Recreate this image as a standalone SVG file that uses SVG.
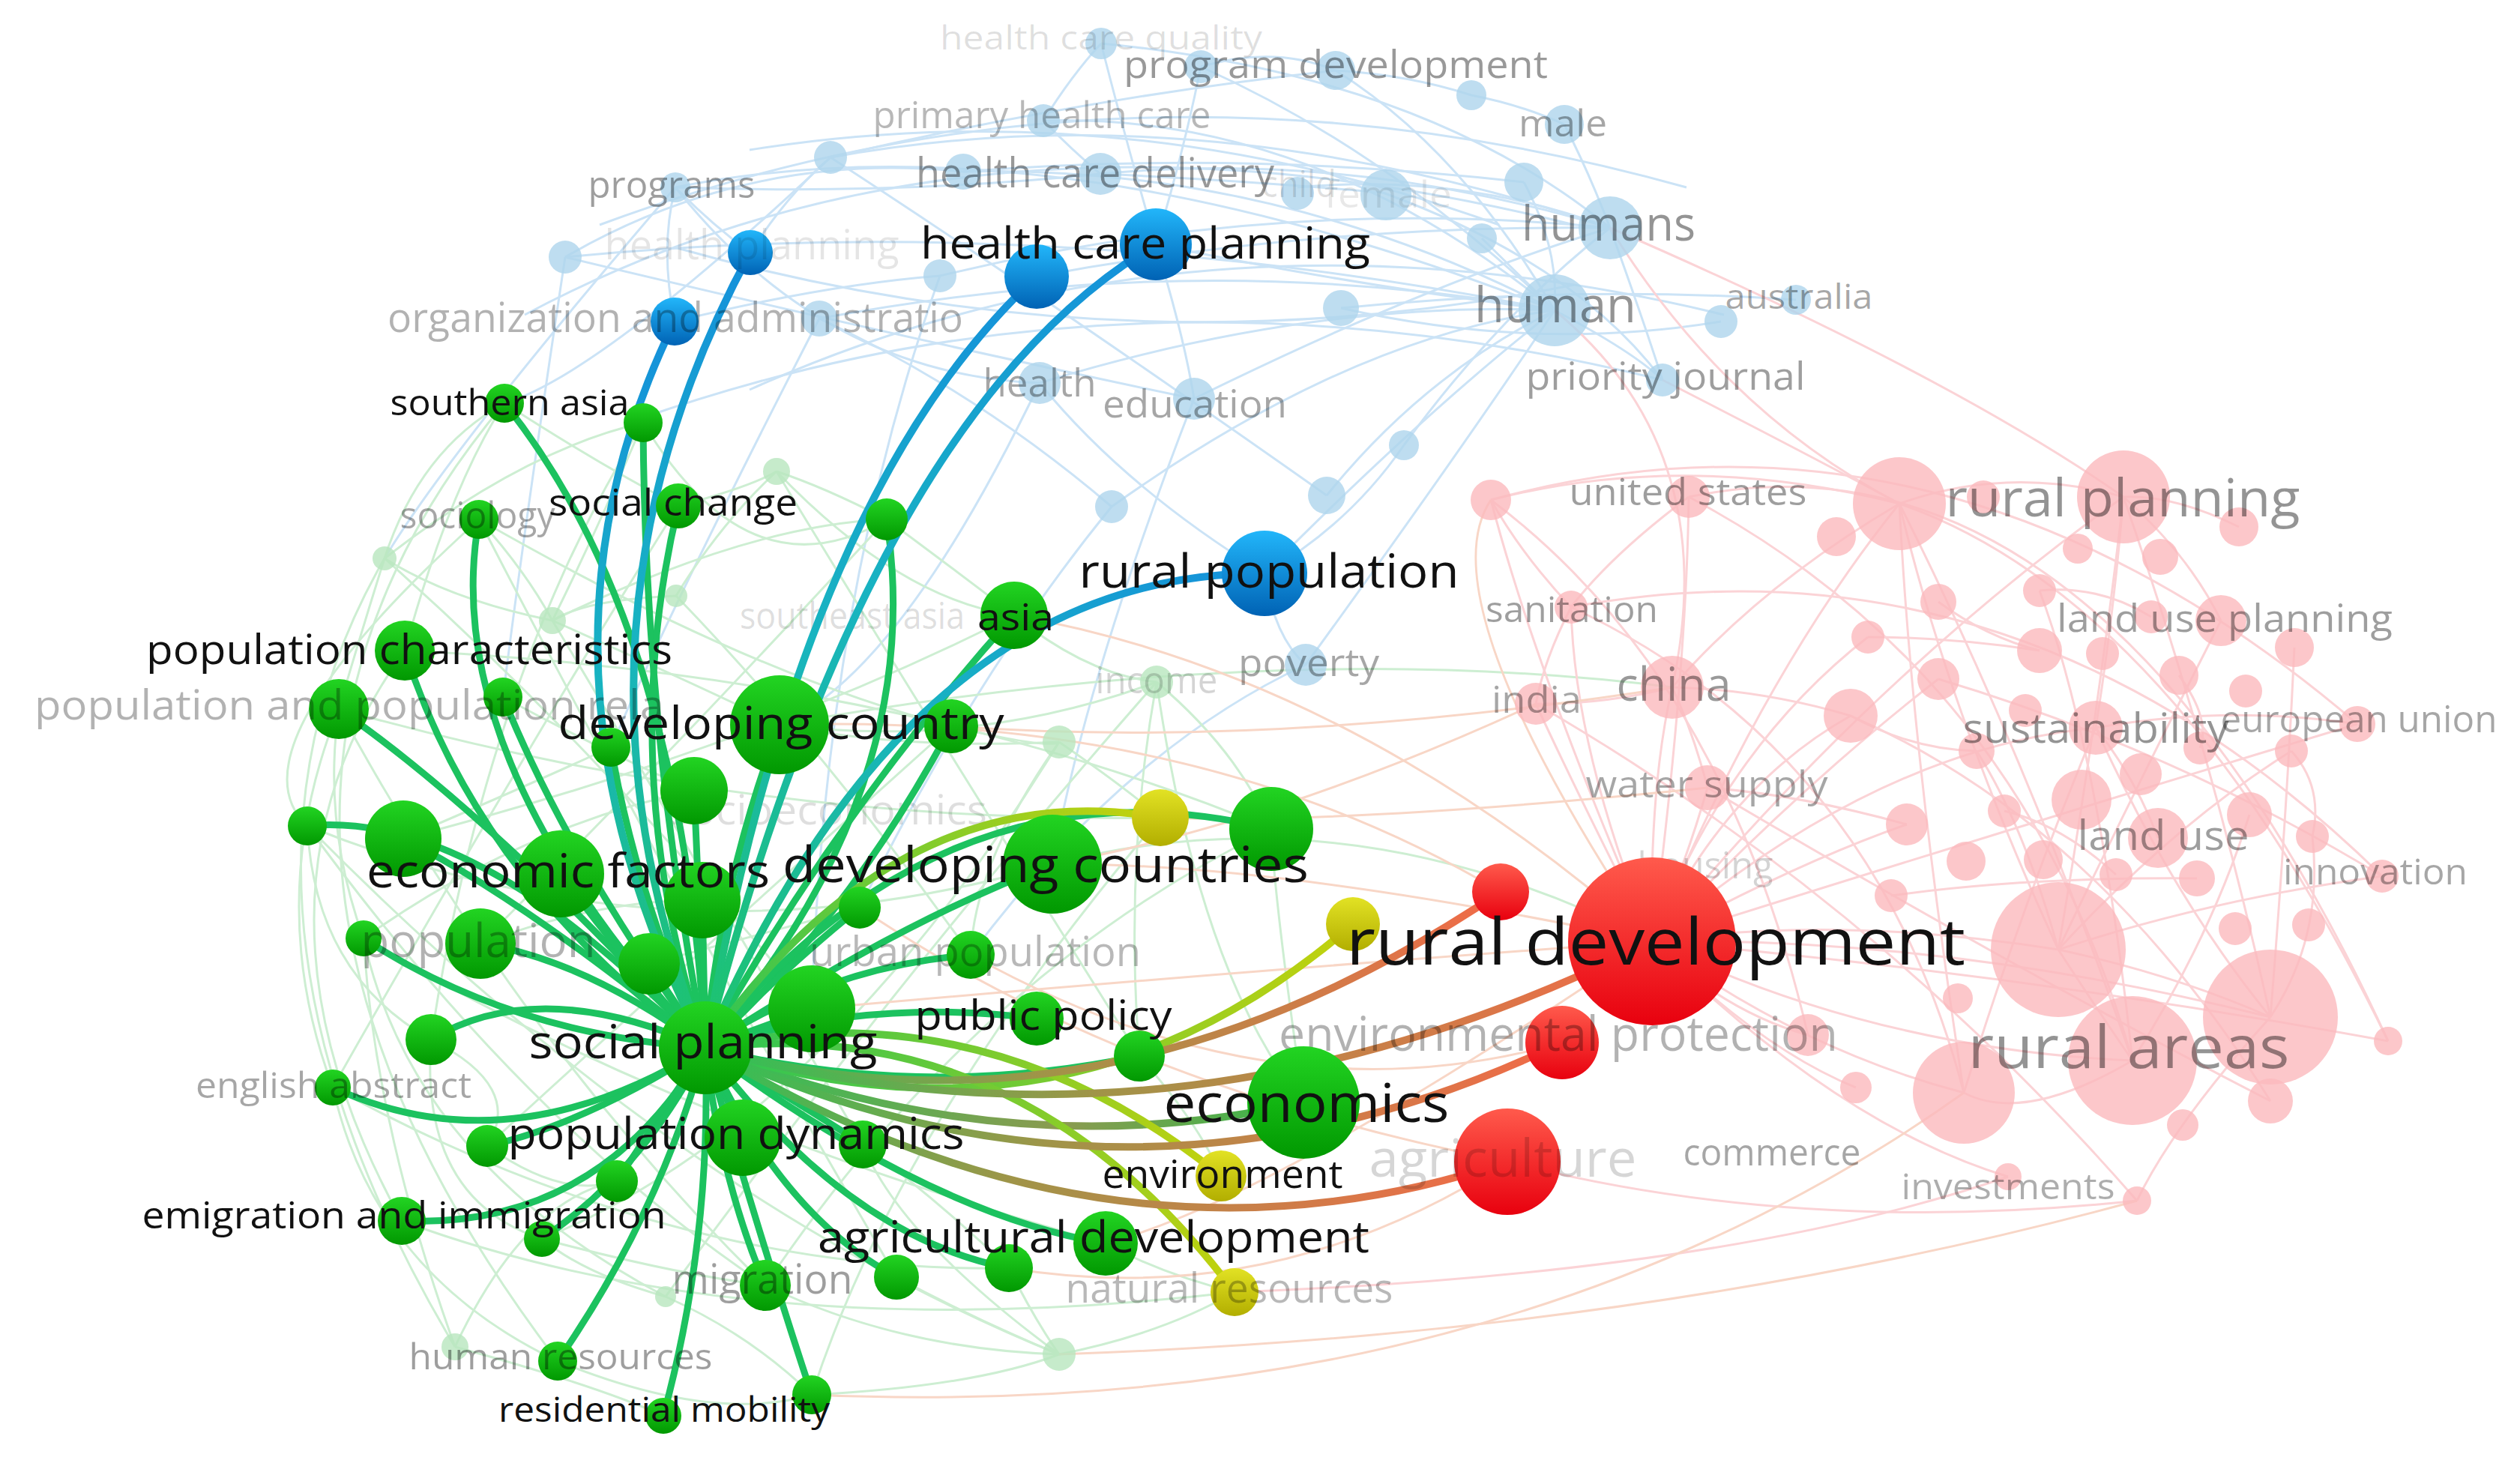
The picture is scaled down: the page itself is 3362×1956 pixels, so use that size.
<svg xmlns="http://www.w3.org/2000/svg" width="3362" height="1956" viewBox="0 0 3362 1956">
<defs>
<style>
.eb{fill:none;stroke:#cbe3f6;stroke-width:3}
.eg{fill:none;stroke:#cdeed2;stroke-width:3}
.ep{fill:none;stroke:#fbd3d6;stroke-width:3}
.eo{fill:none;stroke:#f8d6c6;stroke-width:3}
.fb{fill:#aed5ec;fill-opacity:.8}
.fg{fill:#b8e6be;fill-opacity:.8}
.fp{fill:#fbb9bd;fill-opacity:.8}
.hg{fill:none;stroke:#1cc25f;stroke-width:9;stroke-linecap:round}
.hx{fill:none;stroke-width:10;stroke-linecap:round}
.ng{fill:url(#gG)}
.nb{fill:url(#gB)}
.nr{fill:url(#gR)}
.ny{fill:url(#gY)}
text{font-family:"Open Sans","DejaVu Sans",sans-serif;text-anchor:middle}
.lb{fill:#111}
.lf{fill:#000}
</style>
<linearGradient id="gG" x1="0" y1="0" x2="0" y2="1"><stop offset="0" stop-color="#22d422"/><stop offset="1" stop-color="#019801"/></linearGradient>
<linearGradient id="gB" x1="0" y1="0" x2="0" y2="1"><stop offset="0" stop-color="#22b6fa"/><stop offset="1" stop-color="#0062b4"/></linearGradient>
<linearGradient id="gR" x1="0" y1="0" x2="0" y2="1"><stop offset="0" stop-color="#ff5a4c"/><stop offset="1" stop-color="#e8000e"/></linearGradient>
<linearGradient id="gY" x1="0" y1="0" x2="0" y2="1"><stop offset="0" stop-color="#e2e224"/><stop offset="1" stop-color="#b2ae00"/></linearGradient>
<linearGradient id="eB1" gradientUnits="userSpaceOnUse" x1="941" y1="1398" x2="1001" y2="337"><stop offset="0" stop-color="#1ec46a"/><stop offset=".5" stop-color="#18b4c0"/><stop offset="1" stop-color="#1590dc"/></linearGradient>
<linearGradient id="eB2" gradientUnits="userSpaceOnUse" x1="941" y1="1398" x2="900" y2="429"><stop offset="0" stop-color="#1ec46a"/><stop offset=".5" stop-color="#18b4c0"/><stop offset="1" stop-color="#1590dc"/></linearGradient>
<linearGradient id="eB3" gradientUnits="userSpaceOnUse" x1="941" y1="1398" x2="1383" y2="369"><stop offset="0" stop-color="#1ec46a"/><stop offset=".5" stop-color="#18b4c0"/><stop offset="1" stop-color="#1590dc"/></linearGradient>
<linearGradient id="eB4" gradientUnits="userSpaceOnUse" x1="941" y1="1398" x2="1542" y2="326"><stop offset="0" stop-color="#1ec46a"/><stop offset=".5" stop-color="#18b4c0"/><stop offset="1" stop-color="#1590dc"/></linearGradient>
<linearGradient id="eB5" gradientUnits="userSpaceOnUse" x1="941" y1="1398" x2="1687" y2="765"><stop offset="0" stop-color="#1ec46a"/><stop offset=".5" stop-color="#18b4c0"/><stop offset="1" stop-color="#1590dc"/></linearGradient>
<linearGradient id="eR1" gradientUnits="userSpaceOnUse" x1="941" y1="1398" x2="2002" y2="1190"><stop offset="0" stop-color="#2cc256"/><stop offset=".4" stop-color="#a09448"/><stop offset="1" stop-color="#f26a48"/></linearGradient>
<linearGradient id="eR2" gradientUnits="userSpaceOnUse" x1="941" y1="1398" x2="2204" y2="1256"><stop offset="0" stop-color="#2cc256"/><stop offset=".4" stop-color="#a09448"/><stop offset="1" stop-color="#f26a48"/></linearGradient>
<linearGradient id="eR3" gradientUnits="userSpaceOnUse" x1="941" y1="1398" x2="2084" y2="1391"><stop offset="0" stop-color="#2cc256"/><stop offset=".4" stop-color="#a09448"/><stop offset="1" stop-color="#f26a48"/></linearGradient>
<linearGradient id="eR4" gradientUnits="userSpaceOnUse" x1="941" y1="1398" x2="2011" y2="1550"><stop offset="0" stop-color="#2cc256"/><stop offset=".4" stop-color="#a09448"/><stop offset="1" stop-color="#f26a48"/></linearGradient>
<linearGradient id="eY1" gradientUnits="userSpaceOnUse" x1="941" y1="1398" x2="1548" y2="1091"><stop offset="0" stop-color="#2cc456"/><stop offset="1" stop-color="#c4d20c"/></linearGradient>
<linearGradient id="eY2" gradientUnits="userSpaceOnUse" x1="941" y1="1398" x2="1805" y2="1233"><stop offset="0" stop-color="#2cc456"/><stop offset="1" stop-color="#c4d20c"/></linearGradient>
<linearGradient id="eY3" gradientUnits="userSpaceOnUse" x1="941" y1="1398" x2="1629" y2="1569"><stop offset="0" stop-color="#2cc456"/><stop offset="1" stop-color="#c4d20c"/></linearGradient>
<linearGradient id="eY4" gradientUnits="userSpaceOnUse" x1="941" y1="1398" x2="1647" y2="1724"><stop offset="0" stop-color="#2cc456"/><stop offset="1" stop-color="#c4d20c"/></linearGradient>
<linearGradient id="eEc" gradientUnits="userSpaceOnUse" x1="941" y1="1398" x2="1739" y2="1471"><stop offset="0" stop-color="#2cc256"/><stop offset=".6" stop-color="#8c9a50"/><stop offset="1" stop-color="#36b84a"/></linearGradient>
</defs>
<rect width="3362" height="1956" fill="#fff"/>

<g id="connectors-faded">
<g id="faded-blue-edges">
<path class="eb" d="M901,250 Q1400,150 2074,414"/>
<path class="eb" d="M1108,210 Q1600,120 2148,304"/>
<path class="eb" d="M1285,229 Q1700,220 2074,414"/>
<path class="eb" d="M1468,232 Q1800,200 2148,304"/>
<path class="eb" d="M1392,161 Q1750,150 2074,414"/>
<path class="eb" d="M1469,58 Q1900,100 2148,304"/>
<path class="eb" d="M1782,94 Q1950,200 2074,414"/>
<path class="eb" d="M1602,89 Q1850,200 2074,414"/>
<path class="eb" d="M1731,250 Q1950,230 2148,304"/>
<path class="eb" d="M1845,257 Q2100,350 2218,507"/>
<path class="eb" d="M2033,243 Q2080,330 2074,414"/>
<path class="eb" d="M754,343 Q1400,280 2074,414"/>
<path class="eb" d="M1254,368 Q1700,260 2148,304"/>
<path class="eb" d="M1093,425 Q1600,330 2074,414"/>
<path class="eb" d="M1387,511 Q1750,400 2074,414"/>
<path class="eb" d="M1593,532 Q1900,380 2148,304"/>
<path class="eb" d="M1789,411 Q2100,380 2396,400"/>
<path class="eb" d="M1789,411 Q2050,470 2296,429"/>
<path class="eb" d="M1483,676 Q1800,450 2074,414"/>
<path class="eb" d="M1873,594 Q2000,420 2148,304"/>
<path class="eb" d="M1770,661 Q1900,500 2074,414"/>
<path class="eb" d="M1742,887 Q1950,600 2074,414"/>
<path class="eb" d="M1383,369 Q1750,300 2148,304"/>
<path class="eb" d="M1542,326 Q1800,380 2074,414"/>
<path class="eb" d="M1542,326 Q1500,180 1469,58"/>
<path class="eb" d="M1542,326 Q1580,200 1602,89"/>
<path class="eb" d="M1542,326 Q1580,450 1593,532"/>
<path class="eb" d="M1687,765 Q1900,550 2074,414"/>
<path class="eb" d="M1687,765 Q1500,650 1387,511"/>
<path class="eb" d="M1687,765 Q1700,850 1742,887"/>
<path class="eb" d="M1687,765 Q1800,700 1873,594"/>
<path class="eb" d="M1001,337 Q950,300 901,250"/>
<path class="eb" d="M1001,337 Q1050,260 1108,210"/>
<path class="eb" d="M900,429 Q880,330 901,250"/>
<path class="eb" d="M900,429 Q1100,380 1254,368"/>
<path class="eb" d="M901,250 Q1200,260 1468,232"/>
<path class="eb" d="M1108,210 Q1450,130 1782,94"/>
<path class="eb" d="M1469,58 Q1430,100 1392,161"/>
<path class="eb" d="M1392,161 Q1430,200 1468,232"/>
<path class="eb" d="M1468,232 Q1650,240 1845,257"/>
<path class="eb" d="M1285,229 Q1650,200 2033,243"/>
<path class="eb" d="M754,343 Q1000,200 1285,229"/>
<path class="eb" d="M754,343 Q1200,450 1593,532"/>
<path class="eb" d="M1093,425 Q1300,520 1483,676"/>
<path class="eb" d="M901,250 Q1100,500 1387,511"/>
<path class="eb" d="M1108,210 Q1400,400 1770,661"/>
<path class="eb" d="M700,420 Q1300,100 2100,300"/>
<path class="eb" d="M800,300 Q1500,40 2250,250"/>
<path class="eb" d="M1000,520 Q1600,250 2300,420"/>
<path class="eb" d="M850,560 Q1500,330 2218,507"/>
<path class="eb" d="M1387,511 Q1200,900 1040,967"/>
<path class="eb" d="M1093,425 Q900,800 815,997"/>
<path class="eb" d="M754,343 Q700,700 671,930"/>
<path class="eb" d="M1254,368 Q1100,800 1083,1346"/>
<path class="eb" d="M1593,532 Q1450,900 1404,1153"/>
<path class="eb" d="M1742,887 Q1500,1000 1295,1274"/>
<path class="eb" d="M1483,676 Q1300,900 1147,1211"/>
<path class="eb" d="M901,250 Q600,600 513,745"/>
<path class="eb" d="M1108,210 Q800,500 673,538"/>
<path class="eb" d="M1602,89 Q1700,60 1782,94"/>
<path class="eb" d="M1782,94 Q1880,100 1963,127"/>
<path class="eb" d="M1963,127 Q2030,140 2087,166"/>
<path class="eb" d="M2087,166 Q2120,230 2148,304"/>
<path class="eb" d="M1977,318 Q2030,370 2074,414"/>
<path class="eb" d="M2148,304 Q2190,420 2218,507"/>
<path class="eb" d="M2074,414 Q2180,470 2218,507"/>
<path class="eb" d="M1000,200 Q1500,120 2000,300"/>
<path class="eb" d="M900,330 Q1500,500 2100,380"/>
</g>
<g id="faded-green-edges">
<path class="eg" d="M673,538 Q600,650 540,868"/>
<path class="eg" d="M673,538 Q800,620 905,675"/>
<path class="eg" d="M673,538 Q560,600 513,745"/>
<path class="eg" d="M858,564 Q800,700 737,828"/>
<path class="eg" d="M639,693 Q700,760 737,828"/>
<path class="eg" d="M513,745 Q600,800 737,828"/>
<path class="eg" d="M513,745 Q480,850 452,946"/>
<path class="eg" d="M905,675 Q1000,650 1036,629"/>
<path class="eg" d="M1183,693 Q1100,650 1036,629"/>
<path class="eg" d="M1036,629 Q960,700 902,795"/>
<path class="eg" d="M902,795 Q780,800 737,828"/>
<path class="eg" d="M1353,821 Q1200,800 1036,629"/>
<path class="eg" d="M1353,821 Q1450,900 1543,910"/>
<path class="eg" d="M1543,910 Q1300,1000 1040,967"/>
<path class="eg" d="M1413,990 Q1200,1000 1040,967"/>
<path class="eg" d="M1413,990 Q1500,1050 1548,1091"/>
<path class="eg" d="M1543,910 Q1650,1000 1696,1106"/>
<path class="eg" d="M452,946 Q430,1100 485,1252"/>
<path class="eg" d="M410,1102 Q420,1300 575,1387"/>
<path class="eg" d="M452,946 Q350,1200 444,1451"/>
<path class="eg" d="M540,868 Q300,1200 536,1629"/>
<path class="eg" d="M513,745 Q250,1200 607,1797"/>
<path class="eg" d="M673,538 Q200,1100 744,1816"/>
<path class="eg" d="M639,693 Q300,1000 410,1102"/>
<path class="eg" d="M444,1451 Q500,1700 744,1816"/>
<path class="eg" d="M575,1387 Q560,1600 723,1653"/>
<path class="eg" d="M607,1797 Q800,1850 885,1889"/>
<path class="eg" d="M744,1816 Q950,1900 1083,1861"/>
<path class="eg" d="M1083,1861 Q1300,1850 1413,1807"/>
<path class="eg" d="M1413,1807 Q1550,1780 1647,1724"/>
<path class="eg" d="M1021,1715 Q1200,1800 1413,1807"/>
<path class="eg" d="M888,1730 Q1000,1780 1083,1861"/>
<path class="eg" d="M888,1730 Q780,1700 723,1653"/>
<path class="eg" d="M1346,1692 Q1380,1760 1413,1807"/>
<path class="eg" d="M1475,1659 Q1550,1700 1647,1724"/>
<path class="eg" d="M1196,1704 Q1300,1760 1413,1807"/>
<path class="eg" d="M1543,910 Q1500,1150 1520,1409"/>
<path class="eg" d="M1413,990 Q1300,1150 1295,1274"/>
<path class="eg" d="M1739,1471 Q1600,1300 1543,910"/>
<path class="eg" d="M1739,1471 Q1700,1200 1696,1106"/>
<path class="eg" d="M737,828 Q900,900 1040,967"/>
<path class="eg" d="M671,930 Q800,1000 926,1055"/>
<path class="eg" d="M538,1119 Q700,1050 815,997"/>
<path class="eg" d="M641,1259 Q800,1200 937,1201"/>
<path class="eg" d="M866,1286 Q1000,1250 1147,1211"/>
<path class="eg" d="M575,1387 Q700,1450 650,1529"/>
<path class="eg" d="M650,1529 Q750,1600 823,1576"/>
<path class="eg" d="M723,1653 Q900,1700 1021,1715"/>
<path class="eg" d="M1151,1527 Q1250,1600 1346,1692"/>
<path class="eg" d="M1520,1409 Q1600,1500 1629,1569"/>
<path class="eg" d="M485,1252 Q900,1500 1475,1659"/>
<path class="eg" d="M410,1102 Q900,1300 1404,1153"/>
<path class="eg" d="M452,946 Q1000,1100 1548,1091"/>
<path class="eg" d="M540,868 Q1200,900 1696,1106"/>
<path class="eg" d="M639,693 Q1000,900 1269,969"/>
<path class="eg" d="M444,1451 Q900,1700 1346,1692"/>
<path class="eg" d="M536,1629 Q1000,1800 1647,1724"/>
<path class="eg" d="M1040,967 Q1700,850 2231,917"/>
<path class="eg" d="M1404,1153 Q1800,1050 2204,1256"/>
<path class="eg" d="M410,1102 Q700,1500 1021,1715"/>
<path class="eg" d="M485,1252 Q550,1550 888,1730"/>
<path class="eg" d="M858,564 Q1000,800 1183,693"/>
<path class="eg" d="M1183,693 Q1300,780 1353,821"/>
<path class="eg" d="M1269,969 Q1400,1000 1413,990"/>
<path class="eg" d="M1413,1807 Q1200,1650 1151,1527"/>
<path class="eg" d="M607,1797 Q700,1600 823,1576"/>
<path class="eg" d="M513,745 Q800,1000 1083,1346"/>
<path class="eg" d="M737,828 Q900,1100 1151,1527"/>
<path class="eg" d="M902,795 Q1100,1000 1295,1274"/>
<path class="eg" d="M1036,629 Q1200,900 1520,1409"/>
<path class="eg" d="M639,693 Q900,1200 1196,1704"/>
<path class="eg" d="M452,946 Q700,1400 1021,1715"/>
<path class="eg" d="M410,1102 Q900,1600 1413,1807"/>
<path class="eg" d="M1543,910 Q1200,1300 888,1730"/>
<path class="eg" d="M1413,990 Q1100,1500 723,1653"/>
<path class="eg" d="M1183,693 Q900,1000 641,1259"/>
<path class="eg" d="M1353,821 Q1000,1000 538,1119"/>
<path class="eg" d="M1696,1106 Q1300,1300 1021,1715"/>
<path class="eg" d="M1548,1091 Q1200,1500 1083,1861"/>
<path class="eg" d="M858,564 Q650,900 575,1387"/>
<path class="eg" d="M905,675 Q700,1000 444,1451"/>
<path class="eg" d="M1269,969 Q900,1300 650,1529"/>
<path class="eg" d="M513,745 Q700,600 858,564"/>
<path class="eg" d="M737,828 Q1000,700 1183,693"/>
<path class="eg" d="M485,1252 Q700,1100 926,1055"/>
<path class="eg" d="M607,1797 Q500,1500 485,1252"/>
</g>
<g id="faded-pink-edges">
<path class="ep" d="M2204,1256 Q2350,900 2534,672"/>
<path class="ep" d="M2204,1256 Q2500,900 2833,663"/>
<path class="ep" d="M2204,1256 Q2200,1050 2231,917"/>
<path class="ep" d="M2204,1256 Q2250,1150 2278,1051"/>
<path class="ep" d="M2204,1256 Q2300,1050 2469,955"/>
<path class="ep" d="M2204,1256 Q2400,1150 2544,1100"/>
<path class="ep" d="M2204,1256 Q2450,1220 2746,1267"/>
<path class="ep" d="M2204,1256 Q2500,1400 2845,1415"/>
<path class="ep" d="M2204,1256 Q2600,1250 3029,1357"/>
<path class="ep" d="M2204,1256 Q2400,1400 2620,1458"/>
<path class="ep" d="M2204,1256 Q2300,1350 2412,1381"/>
<path class="ep" d="M2204,1256 Q2350,1400 2476,1451"/>
<path class="ep" d="M2204,1256 Q2450,1500 2679,1570"/>
<path class="ep" d="M2204,1256 Q2400,1050 2586,906"/>
<path class="ep" d="M2204,1256 Q2300,1000 2492,850"/>
<path class="ep" d="M2204,1256 Q2100,1050 2049,939"/>
<path class="ep" d="M2204,1256 Q2100,1000 2096,810"/>
<path class="ep" d="M2204,1256 Q2050,900 1989,667"/>
<path class="ep" d="M2204,1256 Q2250,900 2253,663"/>
<path class="ep" d="M2204,1256 Q2500,1000 2796,971"/>
<path class="ep" d="M2204,1256 Q2700,1100 3145,966"/>
<path class="ep" d="M2204,1256 Q2700,1300 3186,1389"/>
<path class="ep" d="M2746,1267 Q2800,950 2833,663"/>
<path class="ep" d="M2746,1267 Q2600,950 2534,672"/>
<path class="ep" d="M2746,1267 Q2850,1050 2963,828"/>
<path class="ep" d="M2746,1267 Q2900,1100 3057,1002"/>
<path class="ep" d="M2746,1267 Q2950,1200 3178,1169"/>
<path class="ep" d="M2746,1267 Q2800,1350 2845,1415"/>
<path class="ep" d="M2746,1267 Q2900,1300 3029,1357"/>
<path class="ep" d="M2746,1267 Q2700,1100 2637,1002"/>
<path class="ep" d="M3029,1357 Q2950,1000 2833,663"/>
<path class="ep" d="M3029,1357 Q3050,1100 3061,864"/>
<path class="ep" d="M3029,1357 Q3100,1250 3085,1116"/>
<path class="ep" d="M3029,1357 Q2900,1200 2796,971"/>
<path class="ep" d="M3029,1357 Q2900,1500 2851,1602"/>
<path class="ep" d="M2845,1415 Q2700,1000 2534,672"/>
<path class="ep" d="M2845,1415 Q2800,1000 2721,788"/>
<path class="ep" d="M2845,1415 Q2950,1250 3001,1087"/>
<path class="ep" d="M2845,1415 Q2700,1500 2620,1458"/>
<path class="ep" d="M2620,1458 Q2550,1000 2534,672"/>
<path class="ep" d="M2620,1458 Q2700,1200 2796,971"/>
<path class="ep" d="M2534,672 Q2680,620 2833,663"/>
<path class="ep" d="M2534,672 Q2250,600 1989,667"/>
<path class="ep" d="M2534,672 Q2350,780 2231,917"/>
<path class="ep" d="M2833,663 Q2900,660 2987,703"/>
<path class="ep" d="M2833,663 Q2920,740 2963,828"/>
<path class="ep" d="M2833,663 Q2820,820 2796,971"/>
<path class="ep" d="M2231,917 Q2140,940 2049,939"/>
<path class="ep" d="M2231,917 Q2260,980 2278,1051"/>
<path class="ep" d="M2231,917 Q2350,920 2469,955"/>
<path class="ep" d="M2796,971 Q2970,940 3145,966"/>
<path class="ep" d="M2796,971 Q2850,1040 2879,1118"/>
<path class="ep" d="M1989,667 Q2030,740 2096,810"/>
<path class="ep" d="M2253,663 Q2150,740 2096,810"/>
<path class="ep" d="M2096,810 Q2060,880 2049,939"/>
<path class="ep" d="M2278,1051 Q2400,1060 2544,1100"/>
<path class="ep" d="M1989,667 Q2600,500 3145,966"/>
<path class="ep" d="M2253,663 Q2800,550 3186,1389"/>
<path class="ep" d="M2096,810 Q2700,700 3178,1169"/>
<path class="ep" d="M2148,304 Q2300,550 2534,672"/>
<path class="ep" d="M2074,414 Q2300,600 2231,917"/>
<path class="ep" d="M2218,507 Q2400,600 2534,672"/>
<path class="ep" d="M2148,304 Q2600,500 2833,663"/>
<path class="ep" d="M1647,1724 Q2300,1700 2679,1570"/>
<path class="ep" d="M2011,1550 Q2400,1650 2851,1602"/>
<path class="ep" d="M2492,850 Q2600,850 2721,868"/>
<path class="ep" d="M2586,803 Q2650,850 2721,868"/>
<path class="ep" d="M2469,955 Q2550,1000 2637,1002"/>
<path class="ep" d="M2907,901 Q2950,960 2935,998"/>
<path class="ep" d="M2721,788 Q2800,780 2870,823"/>
<path class="ep" d="M2674,1082 Q2750,1100 2823,1167"/>
<path class="ep" d="M2523,1195 Q2700,1170 2931,1172"/>
<path class="ep" d="M3057,1002 Q3100,1050 3085,1116"/>
<path class="ep" d="M2534,672 Q2900,800 3186,1389"/>
<path class="ep" d="M1989,667 Q2300,900 2412,1381"/>
<path class="ep" d="M2096,810 Q2500,1000 2620,1458"/>
<path class="ep" d="M2253,663 Q2700,900 2845,1415"/>
<path class="ep" d="M2469,955 Q2800,1100 3029,1469"/>
<path class="ep" d="M2586,906 Q2900,1000 3178,1169"/>
<path class="ep" d="M2049,939 Q2500,1200 2851,1602"/>
<path class="ep" d="M2278,1051 Q2700,1300 3029,1469"/>
</g>
<g id="faded-orange-edges">
<path class="eo" d="M2204,1256 Q1700,1150 1404,1153"/>
<path class="eo" d="M2204,1256 Q1600,1300 1083,1346"/>
<path class="eo" d="M2204,1256 Q1700,1600 1475,1659"/>
<path class="eo" d="M2011,1550 Q1700,1750 1346,1692"/>
<path class="eo" d="M2084,1391 Q1700,1500 1295,1274"/>
<path class="eo" d="M2204,1256 Q1800,900 1353,821"/>
<path class="eo" d="M2002,1190 Q1600,950 1040,967"/>
<path class="eo" d="M2011,1550 Q1500,1450 1147,1211"/>
<path class="eo" d="M2231,917 Q1700,1000 1269,969"/>
<path class="eo" d="M2049,939 Q1700,1100 1404,1153"/>
<path class="eo" d="M2278,1051 Q1800,1100 1548,1091"/>
<path class="eo" d="M1413,1807 Q2200,1780 2851,1602"/>
<path class="eo" d="M1083,1861 Q2000,1900 2620,1458"/>
<path class="eo" d="M2204,1256 Q1900,800 1989,667"/>
</g>
</g>

<g id="faded-nodes">
<circle id="fb3" class="fb" cx="1963" cy="127" r="20"/>
<circle id="fb5" class="fb" cx="1108" cy="210" r="22"/>
<circle id="fb6" class="fb" cx="1285" cy="229" r="24"/>
<circle id="fb10" class="fb" cx="1602" cy="89" r="22"/>
<circle id="fb12" class="fb" cx="754" cy="343" r="22"/>
<circle id="fb13" class="fb" cx="1254" cy="368" r="22"/>
<circle id="fb14" class="fb" cx="1093" cy="425" r="24"/>
<circle id="fb15" class="fb" cx="1789" cy="411" r="24"/>
<circle id="fb19" class="fb" cx="2033" cy="243" r="26"/>
<circle id="fb21" class="fb" cx="1977" cy="318" r="20"/>
<circle id="fb23" class="fb" cx="2296" cy="429" r="22"/>
<circle id="fb27" class="fb" cx="1483" cy="676" r="22"/>
<circle id="fb28" class="fb" cx="1873" cy="594" r="20"/>
<circle id="fb29" class="fb" cx="1770" cy="661" r="25"/>
<circle id="fg1" class="fg" cx="513" cy="745" r="16"/>
<circle id="fg2" class="fg" cx="1036" cy="629" r="18"/>
<circle id="fg3" class="fg" cx="737" cy="828" r="18"/>
<circle id="fg4" class="fg" cx="902" cy="795" r="15"/>
<circle id="fg6" class="fg" cx="1413" cy="990" r="22"/>
<circle id="fg7" class="fg" cx="1413" cy="1807" r="22"/>
<circle id="fg8" class="fg" cx="607" cy="1797" r="18"/>
<circle id="fg9" class="fg" cx="888" cy="1730" r="14"/>
<circle id="fp1" class="fp" cx="1989" cy="667" r="27"/>
<circle id="fp3" class="fp" cx="2534" cy="672" r="62"/>
<circle id="fp5" class="fp" cx="2450" cy="716" r="26"/>
<circle id="fp6" class="fp" cx="2646" cy="663" r="22"/>
<circle id="fp7" class="fp" cx="2772" cy="732" r="20"/>
<circle id="fp8" class="fp" cx="2882" cy="743" r="24"/>
<circle id="fp9" class="fp" cx="2987" cy="703" r="26"/>
<circle id="fp11" class="fp" cx="2586" cy="803" r="24"/>
<circle id="fp12" class="fp" cx="2721" cy="788" r="22"/>
<circle id="fp13" class="fp" cx="2492" cy="850" r="22"/>
<circle id="fp14" class="fp" cx="2870" cy="823" r="22"/>
<circle id="fp16" class="fp" cx="3061" cy="864" r="26"/>
<circle id="fp17" class="fp" cx="2586" cy="906" r="28"/>
<circle id="fp18" class="fp" cx="2721" cy="868" r="30"/>
<circle id="fp19" class="fp" cx="2805" cy="872" r="22"/>
<circle id="fp20" class="fp" cx="2907" cy="901" r="26"/>
<circle id="fp21" class="fp" cx="2996" cy="922" r="22"/>
<circle id="fp22" class="fp" cx="2469" cy="955" r="36"/>
<circle id="fp23" class="fp" cx="2702" cy="948" r="22"/>
<circle id="fp25" class="fp" cx="2637" cy="1002" r="24"/>
<circle id="fp26" class="fp" cx="2935" cy="998" r="22"/>
<circle id="fp27" class="fp" cx="3057" cy="1002" r="22"/>
<circle id="fp29" class="fp" cx="2856" cy="1033" r="28"/>
<circle id="fp30" class="fp" cx="2544" cy="1100" r="28"/>
<circle id="fp31" class="fp" cx="2674" cy="1082" r="22"/>
<circle id="fp32" class="fp" cx="2777" cy="1067" r="40"/>
<circle id="fp33" class="fp" cx="3001" cy="1087" r="30"/>
<circle id="fp34" class="fp" cx="3085" cy="1116" r="22"/>
<circle id="fp36" class="fp" cx="2623" cy="1149" r="26"/>
<circle id="fp37" class="fp" cx="2726" cy="1147" r="26"/>
<circle id="fp38" class="fp" cx="2823" cy="1167" r="22"/>
<circle id="fp39" class="fp" cx="2931" cy="1172" r="24"/>
<circle id="fp41" class="fp" cx="3080" cy="1234" r="22"/>
<circle id="fp42" class="fp" cx="2982" cy="1239" r="22"/>
<circle id="fp43" class="fp" cx="2523" cy="1195" r="22"/>
<circle id="fpb1" class="fp" cx="2746" cy="1267" r="90"/>
<circle id="fpb3" class="fp" cx="3029" cy="1357" r="90"/>
<circle id="fpb4" class="fp" cx="2620" cy="1458" r="68"/>
<circle id="fp44" class="fp" cx="3029" cy="1469" r="30"/>
<circle id="fp45" class="fp" cx="2912" cy="1501" r="21"/>
<circle id="fp46" class="fp" cx="2851" cy="1602" r="19"/>
<circle id="fp47" class="fp" cx="3186" cy="1389" r="19"/>
<circle id="fp48" class="fp" cx="2476" cy="1451" r="21"/>
<circle id="fp49" class="fp" cx="2412" cy="1381" r="28"/>
<circle id="fp50" class="fp" cx="2612" cy="1332" r="20"/>
<circle id="fp52" class="fp" cx="3178" cy="1169" r="22"/>
<circle id="fp53" class="fp" cx="3145" cy="966" r="24"/>
</g>

<g id="faded-labelled-nodes">
<g id="n-health-care-quality"><circle class="fb" cx="1469" cy="58" r="21"/><text class="lf" fill-opacity=".12" x="1469" y="66" font-size="44" textLength="430" lengthAdjust="spacingAndGlyphs">health care quality</text></g>
<g id="n-program-development"><circle class="fb" cx="1782" cy="94" r="26"/><text class="lf" fill-opacity=".4" x="1782" y="104" font-size="52" textLength="566" lengthAdjust="spacingAndGlyphs">program development</text></g>
<g id="n-primary-health-care"><circle class="fb" cx="1392" cy="161" r="22"/><text class="lf" fill-opacity=".28" x="1390" y="171" font-size="50" textLength="451" lengthAdjust="spacingAndGlyphs">primary health care</text></g>
<g id="n-male"><circle class="fb" cx="2087" cy="166" r="26"/><text class="lf" fill-opacity=".35" x="2085" y="182" font-size="50" textLength="118" lengthAdjust="spacingAndGlyphs">male</text></g>
<g id="n-programs"><circle class="fb" cx="901" cy="250" r="20"/><text class="lf" fill-opacity=".38" x="896" y="264" font-size="50" textLength="223" lengthAdjust="spacingAndGlyphs">programs</text></g>
<g id="n-health-care-delivery"><circle class="fb" cx="1468" cy="232" r="28"/><text class="lf" fill-opacity=".4" x="1461" y="250" font-size="54" textLength="478" lengthAdjust="spacingAndGlyphs">health care delivery</text></g>
<g id="n-child"><circle class="fb" cx="1731" cy="258" r="22"/><text class="lf" fill-opacity=".12" x="1733" y="263" font-size="50" textLength="100" lengthAdjust="spacingAndGlyphs">child</text></g>
<g id="n-female"><circle class="fb" cx="1849" cy="260" r="34"/><text class="lf" fill-opacity=".09" x="1852" y="277" font-size="50" textLength="170" lengthAdjust="spacingAndGlyphs">female</text></g>
<g id="n-humans"><circle class="fb" cx="2148" cy="304" r="42"/><text class="lf" fill-opacity=".42" x="2146" y="321" font-size="64" textLength="232" lengthAdjust="spacingAndGlyphs">humans</text></g>
<g id="n-human"><circle class="fb" cx="2074" cy="414" r="48"/><text class="lf" fill-opacity=".42" x="2075" y="430" font-size="66" textLength="216" lengthAdjust="spacingAndGlyphs">human</text></g>
<g id="n-australia"><circle class="fb" cx="2396" cy="400" r="20"/><text class="lf" fill-opacity=".35" x="2400" y="412" font-size="46" textLength="197" lengthAdjust="spacingAndGlyphs">australia</text></g>
<g id="n-priority-journal"><circle class="fb" cx="2218" cy="507" r="22"/><text class="lf" fill-opacity=".38" x="2222" y="520" font-size="52" textLength="373" lengthAdjust="spacingAndGlyphs">priority journal</text></g>
<g id="n-health"><circle class="fb" cx="1387" cy="511" r="28"/><text class="lf" fill-opacity=".35" x="1387" y="529" font-size="52" textLength="151" lengthAdjust="spacingAndGlyphs">health</text></g>
<g id="n-education"><circle class="fb" cx="1593" cy="532" r="28"/><text class="lf" fill-opacity=".35" x="1594" y="557" font-size="52" textLength="246" lengthAdjust="spacingAndGlyphs">education</text></g>
<g id="n-poverty"><circle class="fb" cx="1742" cy="887" r="28"/><text class="lf" fill-opacity=".35" x="1746" y="902" font-size="52" textLength="188" lengthAdjust="spacingAndGlyphs">poverty</text></g>
<g id="n-income"><circle class="fg" cx="1543" cy="910" r="22"/><text class="lf" fill-opacity=".17" x="1543" y="925" font-size="50" textLength="163" lengthAdjust="spacingAndGlyphs">income</text></g>
<g id="n-southeast-asia"><text class="lf" fill-opacity=".14" x="1137" y="839" font-size="50" textLength="300" lengthAdjust="spacingAndGlyphs">southeast asia</text></g>
<g id="n-socioeconomics"><text class="lf" fill-opacity=".13" x="1105" y="1100" font-size="54" textLength="424" lengthAdjust="spacingAndGlyphs">socioeconomics</text></g>
<g id="n-united-states"><circle class="fp" cx="2253" cy="663" r="28"/><text class="lf" fill-opacity=".38" x="2252" y="674" font-size="50" textLength="317" lengthAdjust="spacingAndGlyphs">united states</text></g>
<g id="n-rural-planning"><circle class="fp" cx="2833" cy="663" r="62"/><text class="lf" fill-opacity=".42" x="2832" y="689" font-size="70" textLength="473" lengthAdjust="spacingAndGlyphs">rural planning</text></g>
<g id="n-sanitation"><circle class="fp" cx="2096" cy="810" r="22"/><text class="lf" fill-opacity=".38" x="2097" y="830" font-size="48" textLength="230" lengthAdjust="spacingAndGlyphs">sanitation</text></g>
<g id="n-land-use-planning"><circle class="fp" cx="2963" cy="828" r="34"/><text class="lf" fill-opacity=".38" x="2968" y="843" font-size="52" textLength="448" lengthAdjust="spacingAndGlyphs">land use planning</text></g>
<g id="n-india"><circle class="fp" cx="2049" cy="939" r="28"/><text class="lf" fill-opacity=".35" x="2050" y="951" font-size="50" textLength="120" lengthAdjust="spacingAndGlyphs">india</text></g>
<g id="n-china"><circle class="fp" cx="2231" cy="917" r="42"/><text class="lf" fill-opacity=".4" x="2233" y="935" font-size="62" textLength="153" lengthAdjust="spacingAndGlyphs">china</text></g>
<g id="n-sustainability"><circle class="fp" cx="2796" cy="971" r="36"/><text class="lf" fill-opacity=".42" x="2796" y="991" font-size="54" textLength="355" lengthAdjust="spacingAndGlyphs">sustainability</text></g>
<g id="n-european-union"><text class="lf" fill-opacity=".35" x="3147" y="977" font-size="50" textLength="369" lengthAdjust="spacingAndGlyphs">european union</text></g>
<g id="n-water-supply"><circle class="fp" cx="2278" cy="1051" r="30"/><text class="lf" fill-opacity=".35" x="2277" y="1064" font-size="50" textLength="323" lengthAdjust="spacingAndGlyphs">water supply</text></g>
<g id="n-land-use"><circle class="fp" cx="2879" cy="1118" r="40"/><text class="lf" fill-opacity=".38" x="2886" y="1134" font-size="54" textLength="229" lengthAdjust="spacingAndGlyphs">land use</text></g>
<g id="n-innovation"><text class="lf" fill-opacity=".35" x="3169" y="1180" font-size="48" textLength="246" lengthAdjust="spacingAndGlyphs">innovation</text></g>
<g id="n-housing"><text class="lf" fill-opacity=".17" x="2275" y="1172" font-size="50" textLength="181" lengthAdjust="spacingAndGlyphs">housing</text></g>
<g id="n-rural-areas"><circle class="fp" cx="2845" cy="1415" r="86"/><text class="lf" fill-opacity=".42" x="2840" y="1425" font-size="78" textLength="429" lengthAdjust="spacingAndGlyphs">rural areas</text></g>
<g id="n-commerce"><text class="lf" fill-opacity=".35" x="2364" y="1555" font-size="50" textLength="237" lengthAdjust="spacingAndGlyphs">commerce</text></g>
<g id="n-investments"><circle class="fp" cx="2679" cy="1570" r="18"/><text class="lf" fill-opacity=".32" x="2679" y="1600" font-size="48" textLength="285" lengthAdjust="spacingAndGlyphs">investments</text></g>
</g>

<g id="connectors">
<path class="hg" d="M941,1398 Q909,832 673,538"/>
<path class="hg" d="M941,1398 Q860,981 858,564"/>
<path class="hg" d="M941,1398 Q582,1013 639,693"/>
<path class="hg" d="M941,1398 Q820,1030 905,675"/>
<path class="hg" d="M941,1398 Q1238,1055 1183,693"/>
<path class="hg" d="M941,1398 Q1120,1080 1353,821" stroke-width="11"/>
<path class="hg" d="M941,1398 Q640,1180 540,868"/>
<path class="hg" d="M941,1398 Q660,1090 452,946" stroke-width="12"/>
<path class="hg" d="M941,1398 Q760,1150 671,930"/>
<path class="hg" d="M941,1398 Q850,1200 815,997"/>
<path class="hg" d="M941,1398 Q960,1180 1040,967" stroke-width="11"/>
<path class="hg" d="M941,1398 Q1130,1230 1269,969"/>
<path class="hg" d="M941,1398 L926,1055"/>
<path class="hg" d="M941,1398 Q640,1080 410,1102"/>
<path class="hg" d="M941,1398 Q700,1200 538,1119" stroke-width="11"/>
<path class="hg" d="M941,1398 Q830,1280 748,1166" stroke-width="12"/>
<path class="hg" d="M941,1398 L937,1201"/>
<path class="hg" d="M941,1398 Q1060,1280 1147,1211"/>
<path class="hg" d="M941,1398 Q1200,1230 1404,1153" stroke-width="12"/>
<path class="hg" d="M941,1398 Q1260,1000 1696,1106" stroke-width="10"/>
<path class="hg" d="M941,1398 Q1100,1290 1295,1274"/>
<path class="hg" d="M941,1398 Q780,1280 641,1259" stroke-width="11"/>
<path class="hg" d="M941,1398 Q680,1380 485,1252"/>
<path class="hg" d="M941,1398 L866,1286"/>
<path class="hg" d="M941,1398 L1083,1346" stroke-width="12"/>
<path class="hg" d="M941,1398 Q1160,1330 1383,1359"/>
<path class="hg" d="M941,1398 Q1230,1470 1520,1409"/>
<path class="hg" d="M941,1398 Q720,1300 575,1387"/>
<path class="hg" d="M941,1398 Q680,1560 444,1451"/>
<path class="hg" d="M941,1398 Q780,1500 650,1529"/>
<path class="hg" d="M941,1398 L991,1518" stroke-width="12"/>
<path class="hg" d="M941,1398 Q1080,1480 1151,1527"/>
<path class="hx" stroke="url(#eEc)" d="M941,1398 Q1340,1560 1739,1471" stroke-width="12"/>
<path class="hg" d="M941,1398 L823,1576"/>
<path class="hg" d="M941,1398 Q860,1560 723,1653"/>
<path class="hg" d="M941,1398 Q800,1640 536,1629"/>
<path class="hg" d="M941,1398 Q960,1570 1021,1715"/>
<path class="hg" d="M941,1398 Q1040,1620 1196,1704"/>
<path class="hg" d="M941,1398 Q1130,1650 1346,1692"/>
<path class="hg" d="M941,1398 Q1240,1620 1475,1659" stroke-width="11"/>
<path class="hg" d="M941,1398 Q880,1620 744,1816"/>
<path class="hg" d="M941,1398 Q950,1650 885,1889"/>
<path class="hg" d="M941,1398 Q1010,1640 1083,1861"/>
<path class="hx" stroke="url(#eB1)" d="M941,1398 Q723,848 1001,337"/>
<path class="hx" stroke="url(#eB2)" d="M941,1398 Q676,887 900,429"/>
<path class="hx" stroke="url(#eB3)" d="M941,1398 Q1068,661 1383,369"/>
<path class="hx" stroke="url(#eB4)" d="M941,1398 Q1159,552 1542,326" stroke-width="11"/>
<path class="hx" stroke="url(#eB5)" d="M941,1398 Q1216,763 1687,765" stroke-width="11"/>
<path class="hx" stroke="url(#eY1)" d="M941,1398 Q1200,1030 1548,1091"/>
<path class="hx" stroke="url(#eY2)" d="M941,1398 Q1428,1560 1805,1233"/>
<path class="hx" stroke="url(#eY3)" d="M941,1398 Q1315,1317 1629,1569"/>
<path class="hx" stroke="url(#eY4)" d="M941,1398 Q1366,1349 1647,1724"/>
<path class="hx" stroke="url(#eR1)" d="M941,1398 Q1472,1546 2002,1190"/>
<path class="hx" stroke="url(#eR2)" d="M941,1398 Q1572,1573 2204,1256" stroke-width="15"/>
<path class="hx" stroke="url(#eR3)" d="M941,1398 Q1512,1666 2084,1391" stroke-width="14"/>
<path class="hx" stroke="url(#eR4)" d="M941,1398 Q1482,1726 2011,1550" stroke-width="15"/>
</g>

<g id="nodes">
<g id="n-g2"><circle class="ng" cx="858" cy="564" r="26"/></g>
<g id="n-g5"><circle class="ng" cx="1183" cy="693" r="28"/></g>
<g id="n-g9"><circle class="ng" cx="671" cy="930" r="26"/></g>
<g id="n-g10"><circle class="ng" cx="815" cy="997" r="26"/></g>
<g id="n-g12"><circle class="ng" cx="1269" cy="969" r="36"/></g>
<g id="n-g13"><circle class="ng" cx="926" cy="1055" r="45"/></g>
<g id="n-g14"><circle class="ng" cx="410" cy="1102" r="26"/></g>
<g id="n-g15"><circle class="ng" cx="538" cy="1119" r="51"/></g>
<g id="n-g17"><circle class="ng" cx="937" cy="1201" r="51"/></g>
<g id="n-g18"><circle class="ng" cx="1147" cy="1211" r="28"/></g>
<g id="n-g20"><circle class="ng" cx="1696" cy="1106" r="56"/></g>
<g id="n-g23"><circle class="ng" cx="485" cy="1252" r="24"/></g>
<g id="n-g24"><circle class="ng" cx="866" cy="1286" r="41"/></g>
<g id="n-g25"><circle class="ng" cx="1083" cy="1346" r="58"/></g>
<g id="n-g27"><circle class="ng" cx="1520" cy="1409" r="34"/></g>
<g id="n-g28"><circle class="ng" cx="575" cy="1387" r="34"/></g>
<g id="n-g30"><circle class="ng" cx="650" cy="1529" r="28"/></g>
<g id="n-g32"><circle class="ng" cx="1151" cy="1527" r="32"/></g>
<g id="n-g34"><circle class="ng" cx="823" cy="1576" r="28"/></g>
<g id="n-g35"><circle class="ng" cx="723" cy="1653" r="24"/></g>
<g id="n-g38"><circle class="ng" cx="1196" cy="1704" r="30"/></g>
<g id="n-g39"><circle class="ng" cx="1346" cy="1692" r="32"/></g>
<g id="n-g43"><circle class="ng" cx="1083" cy="1861" r="26"/></g>
<g id="n-y1"><circle class="ny" cx="1548" cy="1091" r="38"/></g>
<g id="n-y2"><circle class="ny" cx="1805" cy="1233" r="36"/></g>
<g id="n-r1"><circle class="nr" cx="2002" cy="1190" r="38"/></g>
<g id="n-b3"><circle class="nb" cx="1383" cy="369" r="43"/></g>

<g id="n-health-planning"><circle class="nb" cx="1001" cy="337" r="30"/><text class="lf" fill-opacity=".1" x="1003" y="346" font-size="54" textLength="393" lengthAdjust="spacingAndGlyphs">health planning</text></g>
<g id="n-organization-and-administration"><circle class="nb" cx="900" cy="429" r="32"/><text class="lf" fill-opacity=".3" x="901" y="443" font-size="54" textLength="768" lengthAdjust="spacingAndGlyphs">organization and administratio</text></g>
<g id="n-sociology"><circle class="ng" cx="639" cy="693" r="26"/><text class="lf" fill-opacity=".35" x="637" y="705" font-size="50" textLength="207" lengthAdjust="spacingAndGlyphs">sociology</text></g>
<g id="n-population-and-population"><circle class="ng" cx="452" cy="946" r="40"/><text class="lf" fill-opacity=".3" x="466" y="960" font-size="54" textLength="840" lengthAdjust="spacingAndGlyphs">population and population rela</text></g>
<g id="n-population"><circle class="ng" cx="641" cy="1259" r="47"/><text class="lf" fill-opacity=".3" x="638" y="1277" font-size="62" textLength="313" lengthAdjust="spacingAndGlyphs">population</text></g>
<g id="n-urban-population"><circle class="ng" cx="1295" cy="1274" r="32"/><text class="lf" fill-opacity=".28" x="1301" y="1289" font-size="54" textLength="442" lengthAdjust="spacingAndGlyphs">urban population</text></g>
<g id="n-english-abstract"><circle class="ng" cx="444" cy="1451" r="24"/><text class="lf" fill-opacity=".35" x="445" y="1465" font-size="48" textLength="368" lengthAdjust="spacingAndGlyphs">english abstract</text></g>
<g id="n-migration"><circle class="ng" cx="1021" cy="1715" r="34"/><text class="lf" fill-opacity=".38" x="1017" y="1726" font-size="54" textLength="241" lengthAdjust="spacingAndGlyphs">migration</text></g>
<g id="n-natural-resources"><circle class="ny" cx="1647" cy="1724" r="32"/><text class="lf" fill-opacity=".28" x="1640" y="1738" font-size="54" textLength="437" lengthAdjust="spacingAndGlyphs">natural resources</text></g>
<g id="n-human-resources"><circle class="ng" cx="744" cy="1816" r="26"/><text class="lf" fill-opacity=".38" x="748" y="1827" font-size="48" textLength="405" lengthAdjust="spacingAndGlyphs">human resources</text></g>
<g id="n-environmental-protection"><circle class="nr" cx="2084" cy="1391" r="49"/><text class="lf" fill-opacity=".3" x="2079" y="1402" font-size="64" textLength="746" lengthAdjust="spacingAndGlyphs">environmental protection</text></g>
<g id="n-agriculture"><circle class="nr" cx="2011" cy="1550" r="71"/><text class="lf" fill-opacity=".16" x="2005" y="1570" font-size="70" textLength="357" lengthAdjust="spacingAndGlyphs">agriculture</text></g>

<g id="n-southern-asia"><circle class="ng" cx="673" cy="538" r="26"/><text class="lb" x="680" y="554" font-size="47" textLength="319" lengthAdjust="spacingAndGlyphs">southern asia</text></g>
<g id="n-social-change"><circle class="ng" cx="905" cy="675" r="30"/><text class="lb" x="898" y="688" font-size="49" textLength="332" lengthAdjust="spacingAndGlyphs">social change</text></g>
<g id="n-asia"><circle class="ng" cx="1353" cy="821" r="45"/><text class="lb" x="1355" y="841" font-size="50" textLength="102" lengthAdjust="spacingAndGlyphs">asia</text></g>
<g id="n-population-characteristics"><circle class="ng" cx="540" cy="868" r="40"/><text class="lb" x="546" y="886" font-size="54" textLength="702" lengthAdjust="spacingAndGlyphs">population characteristics</text></g>
<g id="n-residential-mobility"><circle class="ng" cx="885" cy="1889" r="24"/><text class="lb" x="886" y="1897" font-size="46" textLength="442" lengthAdjust="spacingAndGlyphs">residential mobility</text></g>
<g id="n-emigration-and-immigration"><circle class="ng" cx="536" cy="1629" r="32"/><text class="lb" x="539" y="1639" font-size="50" textLength="699" lengthAdjust="spacingAndGlyphs">emigration and immigration</text></g>
<g id="n-environment"><circle class="ny" cx="1629" cy="1569" r="34"/><text class="lb" x="1631" y="1585" font-size="51" textLength="321" lengthAdjust="spacingAndGlyphs">environment</text></g>
<g id="n-public-policy"><circle class="ng" cx="1383" cy="1359" r="36"/><text class="lb" x="1392" y="1374" font-size="54" textLength="343" lengthAdjust="spacingAndGlyphs">public policy</text></g>
<g id="n-agricultural-development"><circle class="ng" cx="1475" cy="1659" r="43"/><text class="lb" x="1459" y="1671" font-size="58" textLength="736" lengthAdjust="spacingAndGlyphs">agricultural development</text></g>
<g id="n-population-dynamics"><circle class="ng" cx="991" cy="1518" r="51"/><text class="lb" x="982" y="1533" font-size="58" textLength="609" lengthAdjust="spacingAndGlyphs">population dynamics</text></g>
<g id="n-economic-factors"><circle class="ng" cx="748" cy="1166" r="58"/><text class="lb" x="758" y="1184" font-size="62" textLength="538" lengthAdjust="spacingAndGlyphs">economic factors</text></g>
<g id="n-developing-country"><circle class="ng" cx="1040" cy="967" r="66"/><text class="lb" x="1042" y="986" font-size="61" textLength="595" lengthAdjust="spacingAndGlyphs">developing country</text></g>
<g id="n-health-care-planning"><circle class="nb" cx="1542" cy="326" r="48"/><text class="lb" x="1528" y="345" font-size="58" textLength="600" lengthAdjust="spacingAndGlyphs">health care planning</text></g>
<g id="n-rural-population"><circle class="nb" cx="1687" cy="765" r="57"/><text class="lb" x="1693" y="784" font-size="62" textLength="507" lengthAdjust="spacingAndGlyphs">rural population</text></g>
<g id="n-economics"><circle class="ng" cx="1739" cy="1471" r="75"/><text class="lb" x="1743" y="1497" font-size="72" textLength="381" lengthAdjust="spacingAndGlyphs">economics</text></g>
<g id="n-developing-countries"><circle class="ng" cx="1404" cy="1153" r="66"/><text class="lb" x="1395" y="1177" font-size="66" textLength="702" lengthAdjust="spacingAndGlyphs">developing countries</text></g>
<g id="n-social-planning"><circle class="ng" cx="941" cy="1398" r="62"/><text class="lb" x="938" y="1412" font-size="62" textLength="465" lengthAdjust="spacingAndGlyphs">social planning</text></g>
<g id="n-rural-development"><circle class="nr" cx="2204" cy="1256" r="112"/><text class="lb" x="2209" y="1287" font-size="86" textLength="826" lengthAdjust="spacingAndGlyphs">rural development</text></g>
</g>
</svg>
